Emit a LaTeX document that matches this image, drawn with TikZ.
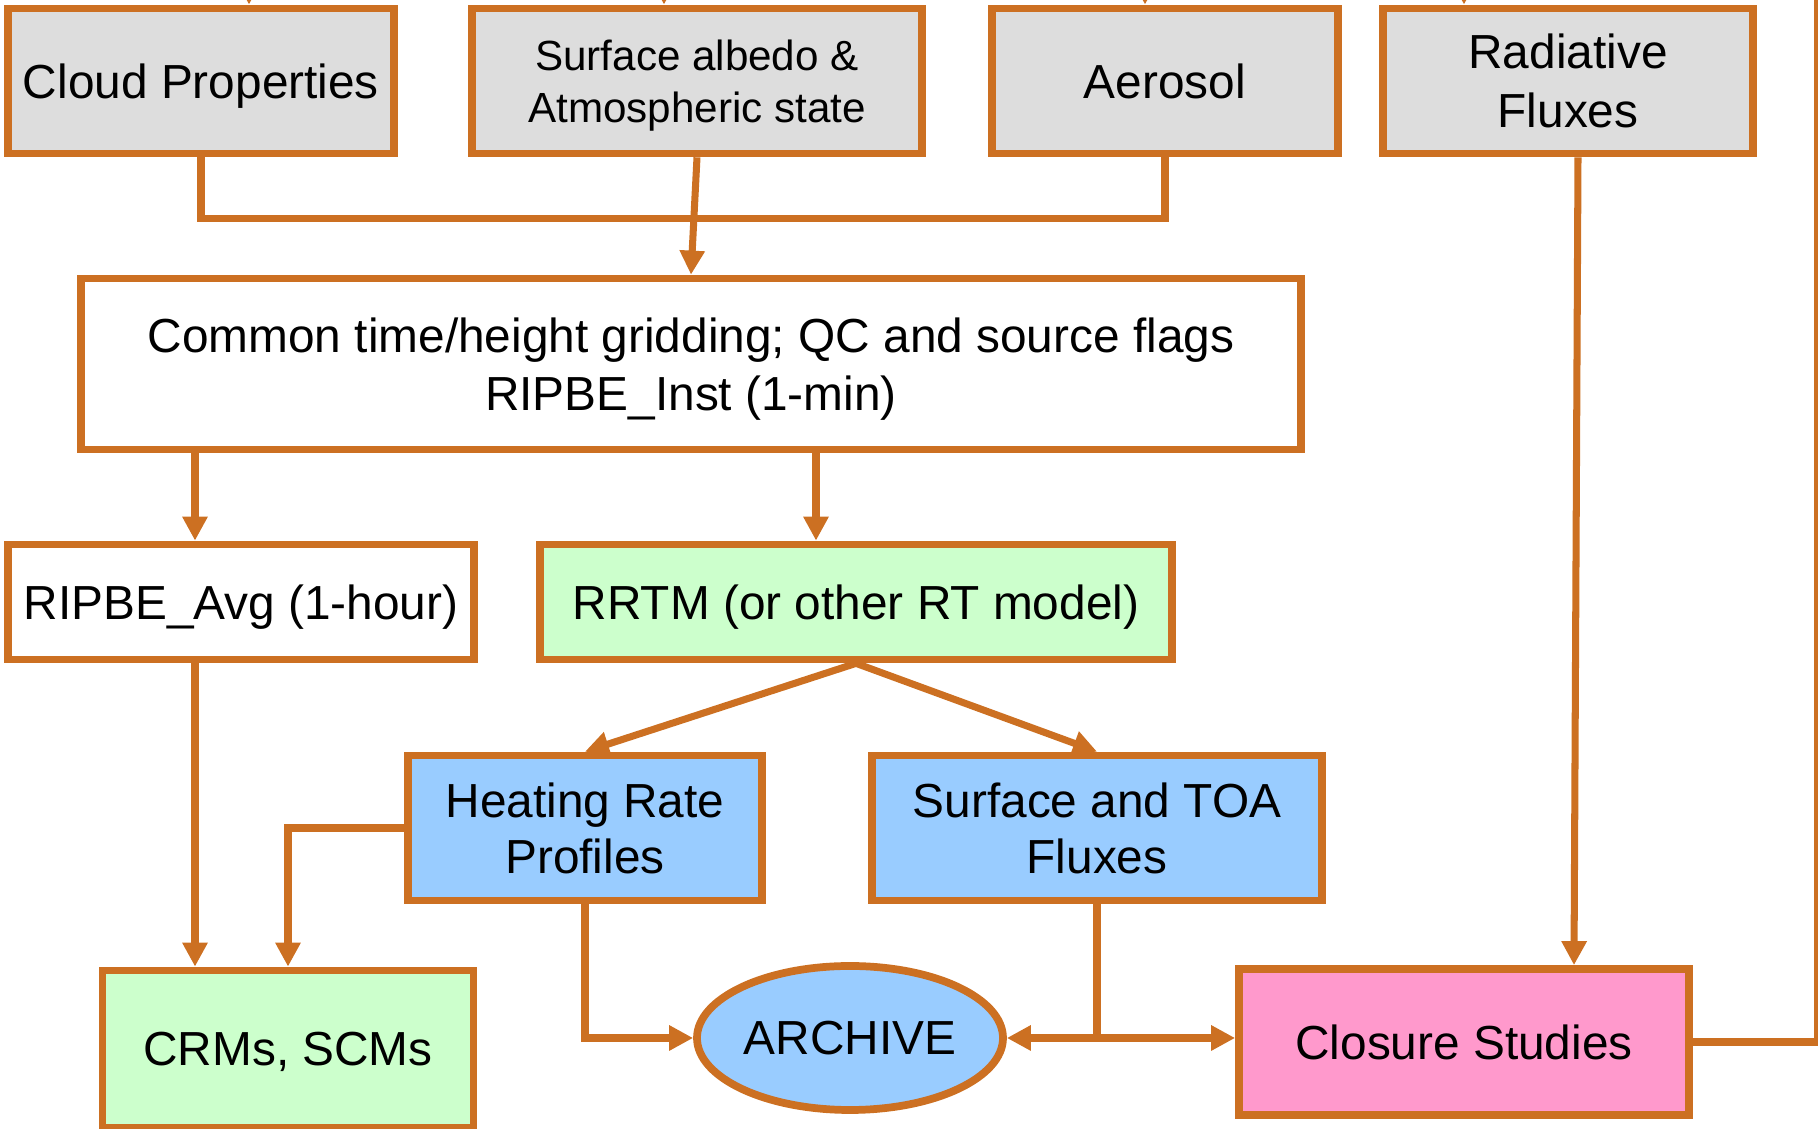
\documentclass[tikz,border=0pt]{standalone}
\usepackage{fontspec}
\setmainfont{Liberation Sans}
\usetikzlibrary{arrows.meta,shapes.geometric}
\definecolor{rim}{RGB}{204,112,34}
\definecolor{greybox}{RGB}{221,221,221}
\definecolor{greenbox}{RGB}{204,255,204}
\definecolor{bluebox}{RGB}{153,204,255}
\definecolor{pinkbox}{RGB}{255,153,204}

\begin{document}
\begin{tikzpicture}[
  box/.style={draw=rim,line width=2.2pt,rectangle,align=center,inner sep=0pt,text depth=0pt,
    font=\fontsize{13.6}{16.5}\selectfont},
  flow/.style={draw=rim,line width=2pt,-{Triangle[length=2.4mm,width=2.4mm]}},
  link/.style={draw=rim,line width=2pt}]
  \useasboundingbox (0,0) rectangle (18.18,11.29);

  \node[box,fill=greybox,minimum width=3.86cm,minimum height=1.45cm] (cloud) at (2.01,10.48) {Cloud Properties};
  \node[box,fill=greybox,minimum width=4.50cm,minimum height=1.45cm,
    font=\fontsize{12}{14.8}\selectfont] (albedo) at (6.97,10.48) {Surface albedo \&\\Atmospheric state};
  \node[box,fill=greybox,minimum width=3.46cm,minimum height=1.45cm] (aerosol) at (11.65,10.48) {Aerosol};
  \node[box,fill=greybox,minimum width=3.70cm,minimum height=1.45cm,
    font=\fontsize{13.6}{16.8}\selectfont] (radflux) at (15.68,10.48) {Radiative\\Fluxes};

  \node[box,fill=white,minimum width=12.20cm,minimum height=1.71cm,
    font=\fontsize{13.6}{16.6}\selectfont] (grid) at (6.91,7.65)
    {Common time/height gridding; QC and source flags\\RIPBE\_Inst (1-min)};

  \node[box,fill=white,minimum width=4.66cm,minimum height=1.15cm] (avg) at (2.41,5.27) {RIPBE\_Avg (1-hour)};
  \node[box,fill=greenbox,minimum width=6.32cm,minimum height=1.15cm] (rrtm) at (8.56,5.27) {RRTM (or other RT model)};

  \node[box,fill=bluebox,minimum width=3.54cm,minimum height=1.45cm,
    font=\fontsize{13.6}{15.8}\selectfont] (heat) at (5.85,3.01) {Heating Rate\\Profiles};
  \node[box,fill=bluebox,minimum width=4.50cm,minimum height=1.45cm,
    font=\fontsize{13.6}{15.8}\selectfont] (sfc) at (10.97,3.01) {Surface and TOA\\Fluxes};

  \node[box,fill=greenbox,minimum width=3.71cm,minimum height=1.57cm] (crm) at (2.88,0.80) {CRMs, SCMs};
  \node[box,ellipse,fill=bluebox,minimum width=3.06cm,minimum height=1.44cm] (archive) at (8.50,0.91) {ARCHIVE};
  \node[box,fill=pinkbox,minimum width=4.50cm,minimum height=1.46cm] (closure) at (14.64,0.87) {Closure Studies};

  \coordinate (cloudin) at (2.49,11.8);
  \coordinate (albedoin) at (6.64,11.8);
  \coordinate (aerosolin) at (11.45,11.8);
  \coordinate (radfluxin) at (14.64,11.8);
  \coordinate (avgin) at ([xshift=-4.6mm]avg.north);
  \coordinate (rrtmin) at ([xshift=-4.0mm]rrtm.north);
  \coordinate (closurein) at ([xshift=11mm]closure.north);
  \coordinate (rightup) at (18.17,11.8);

  \foreach \t in {cloud,albedo,aerosol,radflux}
    \draw[flow] (\t in) -- (\t.north -| \t in);

  \draw[link] (cloud.south) -- ++(0,-0.61) -| (aerosol.south);
  \draw[flow] (albedo.south) -- (grid.north);

  \draw[flow] (grid.south -| avgin) -- (avgin);
  \draw[flow] (grid.south -| rrtmin) -- (rrtmin);

  \draw[flow] (rrtm.south) -- (heat.north);
  \draw[flow] (rrtm.south) -- (sfc.north);

  \draw[flow] (avg.south -| avgin) -- (crm.north -| avgin);
  \draw[flow] (heat.west) -| (crm.north);
  \draw[flow] (heat.south) |- (archive.west);
  \draw[flow] (sfc.south) |- (archive.east);
  \draw[flow] (sfc.south) |- (closure.west |- archive.east);
  \draw[flow] ([xshift=1mm]radflux.south) -- (closurein);
  \draw[link] (closure.east) -| (rightup);
\end{tikzpicture}
\end{document}
